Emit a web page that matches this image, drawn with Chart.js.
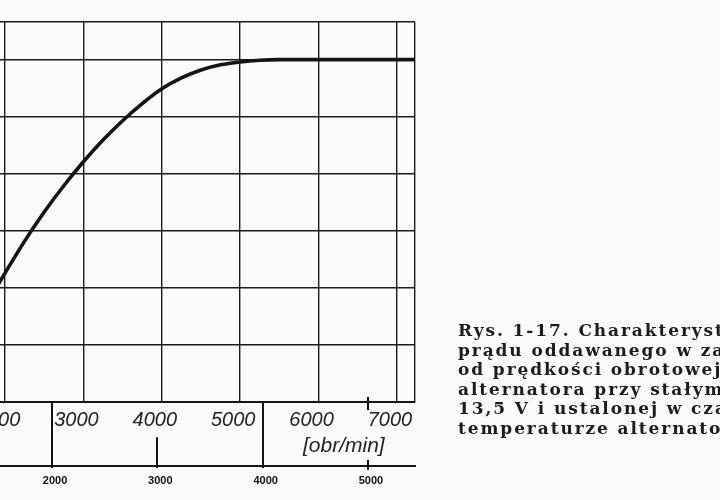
<!DOCTYPE html>
<html>
<head>
<meta charset="utf-8">
<script src="https://cdn.jsdelivr.net/npm/chart.js@4.4.1/dist/chart.umd.min.js"></script>
<style>
  html, body { margin: 0; padding: 0; background: #fbfbfa; }
  #wrap { position: relative; width: 720px; height: 500px; overflow: hidden; }
  canvas { position: absolute; left: 0; top: 0; }
  .unit { position: absolute; left: 303px; top: 433px; font: italic 21px "Liberation Sans", sans-serif; color: #222; white-space: nowrap; }
  .cap { position: absolute; left: 458px; top: 321px; width: 262px; overflow: hidden; font: bold 17px "DejaVu Serif", serif; letter-spacing: 1.9px; line-height: 19.6px; color: #1c1c1c; white-space: nowrap; }
</style>
</head>
<body>
<div id="wrap">
  <canvas id="c" width="720" height="500"></canvas>
  <div class="unit">[obr/min]</div>
  <div class="cap">
    Rys. 1-17. Charakterystyka<br>
    prądu oddawanego w zależności<br>
    od prędkości obrotowej<br>
    alternatora przy stałym napięciu<br>
    13,5 V i ustalonej w czasie pracy<br>
    temperaturze alternatora
  </div>
</div>
<script>
// ---- data ----
const rpm     = [1900, 2000, 2250, 2500, 2750, 3000, 3250, 3500, 3750, 4000, 4250, 4500, 4750, 5000, 5250, 5500, 7300];
const current = [10.15, 11.3, 14.1, 16.65, 18.95, 21.05, 22.95, 24.65, 26.15, 27.45, 28.4, 29.1, 29.55, 29.8, 29.95, 30.0, 30.0];
const xTicks  = [2000, 3000, 4000, 5000, 6000, 7000];
const yTicks  = [0, 5, 10, 15, 20, 25, 30];
const x2Ticks = [2000, 3000, 4000, 5000];
const x2Reach = [1, 0.45, 1, 0.12];   // relative length of the marks on the lower scale

const ink = '#141414';

const lowerMarks = {
  id: 'lowerMarks',
  afterDraw(chart) {
    const s = chart.scales.x2;
    const ctx = chart.ctx;
    const top = chart.chartArea.bottom;
    const base = s.top;
    ctx.save();
    ctx.strokeStyle = ink;
    ctx.lineWidth = 2;
    x2Ticks.forEach((v, i) => {
      const px = Math.round(s.getPixelForValue(v));
      ctx.beginPath();
      if (x2Reach[i] < 0.2) {
        ctx.moveTo(px, top - 5); ctx.lineTo(px, top + 8);
        ctx.moveTo(px, base - 6); ctx.lineTo(px, base + 4);
      } else {
        ctx.moveTo(px, base + 2);
        ctx.lineTo(px, base - (base - top) * x2Reach[i]);
      }
      ctx.stroke();
    });
    ctx.restore();
  }
};

new Chart(document.getElementById('c'), {
  type: 'line',
  data: {
    datasets: [{
      data: rpm.map((r, i) => ({ x: r, y: current[i] })),
      borderColor: ink,
      borderWidth: 3.6,
      pointRadius: 0,
      cubicInterpolationMode: 'monotone',
      fill: false
    }]
  },
  options: {
    responsive: false,
    animation: false,
    layout: { padding: { top: 22, left: 0, right: 305, bottom: 0 } },
    plugins: { legend: { display: false }, tooltip: { enabled: false } },
    scales: {
      x: {
        type: 'linear',
        position: 'bottom',
        weight: 0,
        min: 1936,
        max: 7230,
        afterBuildTicks: s => { s.ticks = xTicks.map(v => ({ value: v })).concat([{ value: s.max }]); },
        afterFit: s => { s.height = 64; s.paddingLeft = 0; s.paddingRight = 0; },
        grid: { color: '#1c1c1c', lineWidth: 1.4, drawTicks: false },
        border: { display: true, color: ink, width: 2 },
        ticks: {
          autoSkip: false, maxRotation: 0, padding: 6, labelOffset: -7,
          color: '#222',
          font: { family: 'Liberation Sans', style: 'italic', size: 20 },
          callback: v => (xTicks.includes(v) ? String(v) : '')
        }
      },
      x2: {
        type: 'linear',
        position: 'bottom',
        weight: 1,
        min: 1506,
        max: 5447,
        afterBuildTicks: s => { s.ticks = x2Ticks.map(v => ({ value: v })); },
        afterFit: s => { s.height = 34; s.paddingLeft = 0; s.paddingRight = 0; },
        grid: { display: false, drawTicks: false },
        border: { display: true, color: ink, width: 2 },
        ticks: {
          autoSkip: false, maxRotation: 0, padding: 8, labelOffset: 3,
          color: '#111',
          font: { family: 'Liberation Sans', weight: 'bold', size: 11 },
          callback: v => String(v)
        }
      },
      y: {
        type: 'linear',
        min: 0,
        max: 33.3,
        afterBuildTicks: s => { s.ticks = yTicks.map(v => ({ value: v })).concat([{ value: s.max }]); },
        afterFit: s => { s.width = 0; },
        grid: { color: '#1c1c1c', lineWidth: 1.4, drawTicks: false },
        border: { display: false },
        ticks: { display: false }
      }
    }
  },
  plugins: [lowerMarks]
});
</script>
</body>
</html>
